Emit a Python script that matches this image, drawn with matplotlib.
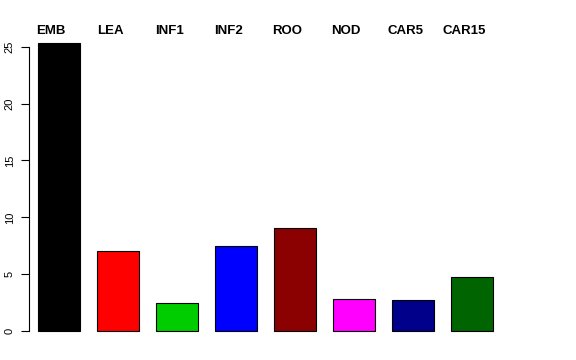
import numpy as np
import matplotlib
matplotlib.use("Agg")
import matplotlib.pyplot as plt
from matplotlib.transforms import blended_transform_factory

plt.rcParams['font.family'] = ['Liberation Sans', 'DejaVu Sans']

tissues = ["EMB", "LEA", "INF1", "INF2", "ROO", "NOD", "CAR5", "CAR15"]
values = [25.35, 7.0, 2.43, 7.45, 9.1, 2.8, 2.75, 4.72]
colors = ["#000000", "#FF0000", "#00CD00", "#0000FF",
          "#8B0000", "#FF00FF", "#00008B", "#006400"]
yticks = [0, 5, 10, 15, 20, 25]

fig = plt.figure(figsize=(5.76, 3.6), dpi=100)
ax = fig.add_axes([29 / 576, 1 - 342.5 / 360, (502 - 29) / 576, (342.5 - 31.2) / 360])

x = np.arange(len(tissues))
ax.bar(x, values, width=0.71, color=colors, edgecolor="black", linewidth=0.8)

ax.set_xlim(-0.508, len(tissues) - 1 + 0.508)
ax.set_ylim(-1.01, 26.37)

for s in ["top", "right", "bottom"]:
    ax.spines[s].set_visible(False)
ax.spines["left"].set_bounds(0, 25)
ax.spines["left"].set_linewidth(0.8)
ax.set_xticks([])
ax.set_yticks(yticks)
ax.set_yticklabels([str(t) for t in yticks], rotation=90, va="center", fontsize=8)
ax.tick_params(axis="y", length=5.8, width=0.8, pad=4.5)

trans = blended_transform_factory(ax.transData, ax.transAxes)
for xi, name in zip(x, tissues):
    ax.text(xi - 0.135, (342.5 - 34.3) / (342.5 - 31.2), name, transform=trans,
            ha="center", va="baseline", fontsize=9.5, fontweight="bold")

fig.savefig("out.png", dpi=100)
